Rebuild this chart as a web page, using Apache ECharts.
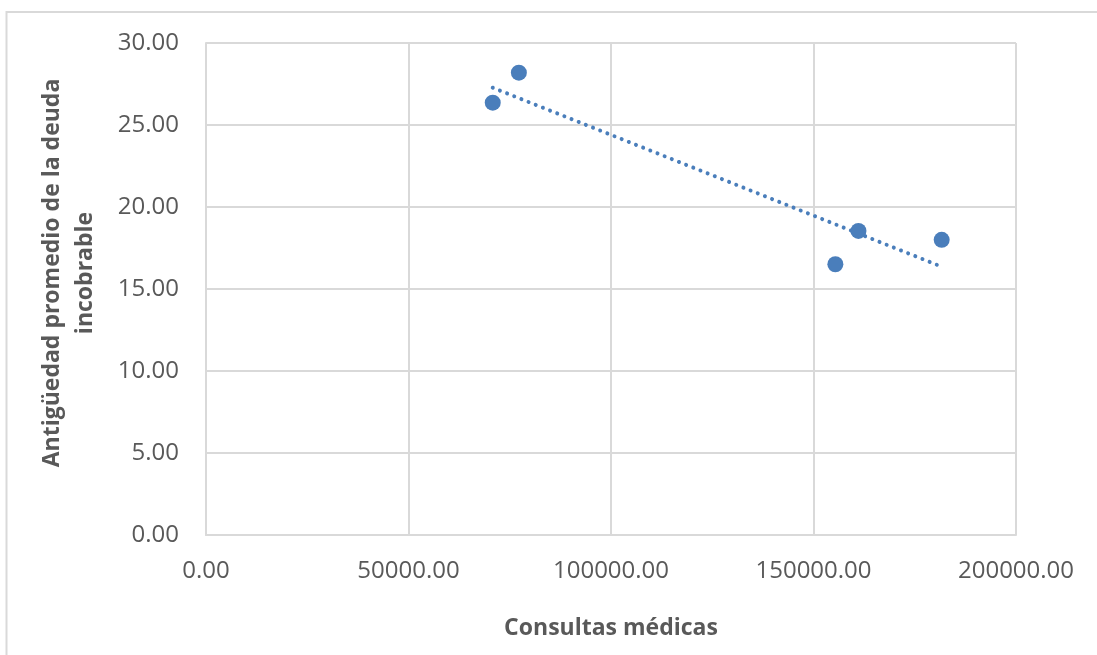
<!DOCTYPE html>
<html>
<head>
<meta charset="utf-8">
<script src="https://cdn.jsdelivr.net/npm/echarts@6/dist/echarts.min.js"></script>
<style>
  html, body { margin: 0; padding: 0; background: #fff; }
  #chart { width: 1097px; height: 655px; }
</style>
</head>
<body>
<div id="chart"></div>
<script>
// datos
const consultas = [70800, 77250, 155400, 161100, 181650];
const antiguedad = [26.36, 28.19, 16.51, 18.54, 18.00];
const xTicks = [0, 50000, 100000, 150000, 200000];
const yTicks = [0, 5, 10, 15, 20, 25, 30];

// linea de tendencia lineal (minimos cuadrados)
function tendencia(xs, ys) {
  const n = xs.length;
  const mx = xs.reduce((a, b) => a + b, 0) / n;
  const my = ys.reduce((a, b) => a + b, 0) / n;
  let sxy = 0, sxx = 0;
  for (let i = 0; i < n; i++) {
    sxy += (xs[i] - mx) * (ys[i] - my);
    sxx += (xs[i] - mx) * (xs[i] - mx);
  }
  const m = sxy / sxx;
  const b = my - m * mx;
  const x0 = Math.min(...xs), x1 = Math.max(...xs);
  return [[x0, m * x0 + b], [x1, m * x1 + b]];
}

const puntos = consultas.map((x, i) => [x, antiguedad[i]]);
const fuente = '"Open Sans", sans-serif';
const gris = '#d9d9d9';

let myChart = echarts.init(document.getElementById('chart'));
let option = {
  animation: false,
  graphic: [{
    type: 'rect',
    shape: { x: 6.5, y: 12, width: 1200, height: 800 },
    style: { fill: 'none', stroke: gris, lineWidth: 2 },
    silent: true
  }],
  grid: { left: 206, top: 43, right: 81, bottom: 120 },
  xAxis: {
    type: 'value',
    min: xTicks[0],
    max: xTicks[xTicks.length - 1],
    interval: 50000,
    name: 'Consultas médicas',
    nameLocation: 'middle',
    nameGap: 82,
    nameTextStyle: { fontFamily: fuente, fontSize: 23, fontWeight: 'bold', color: '#595959' },
    axisLine: { show: true, lineStyle: { color: gris, width: 2 } },
    axisTick: { show: false },
    axisLabel: {
      margin: 24,
      fontFamily: fuente, fontSize: 24, color: '#595959',
      formatter: v => v.toFixed(2)
    },
    splitLine: { show: true, lineStyle: { color: gris, width: 2 } }
  },
  yAxis: {
    type: 'value',
    min: yTicks[0],
    max: yTicks[yTicks.length - 1],
    interval: 5,
    name: 'Antigüedad promedio de la deuda\nincobrable',
    nameLocation: 'middle',
    nameRotate: 90,
    nameGap: 104,
    nameTextStyle: {
      fontFamily: fuente, fontSize: 23, fontWeight: 'bold', color: '#595959',
      lineHeight: 33, padding: [0, 0, 0, 32]
    },
    axisLine: { show: true, lineStyle: { color: gris, width: 2 } },
    axisTick: { show: false },
    axisLabel: {
      margin: 27,
      fontFamily: fuente, fontSize: 24, color: '#595959',
      formatter: v => v.toFixed(2)
    },
    splitLine: { show: true, lineStyle: { color: gris, width: 2 } }
  },
  series: [
    {
      type: 'line',
      data: tendencia(consultas, antiguedad),
      showSymbol: false,
      symbol: 'none',
      lineStyle: { color: '#4a7ebb', width: 4, type: [0.01, 7.7], cap: 'round' },
      z: 2
    },
    {
      type: 'scatter',
      data: puntos,
      symbolSize: 16,
      itemStyle: { color: '#4a7ebb', opacity: 1 },
      z: 3
    }
  ]
};
myChart.setOption(option);
</script>
</body>
</html>
